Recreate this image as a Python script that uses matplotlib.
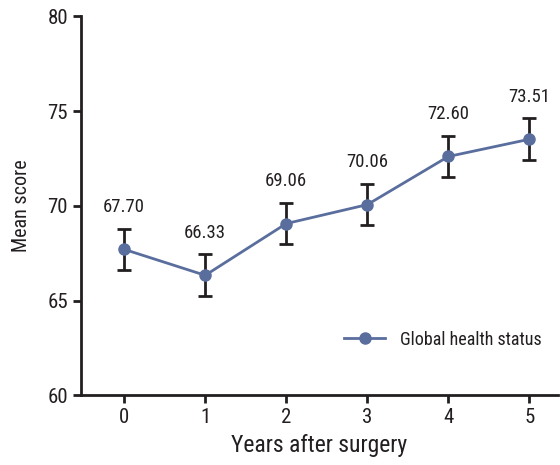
import numpy as np
import matplotlib
matplotlib.use("Agg")
from matplotlib import pyplot as plt

years = [0, 1, 2, 3, 4, 5]
mean_score = [67.70, 66.33, 69.06, 70.06, 72.60, 73.51]
err = [1.1, 1.1, 1.1, 1.1, 1.1, 1.1]
labels = ["67.70", "66.33", "69.06", "70.06", "72.60", "73.51"]

plt.rcParams['font.family'] = ["Roboto Condensed", "DejaVu Sans"]

line_col = "#5a6e9e"
ink = "#231f20"

fig = plt.figure(figsize=(5.6, 4.65), dpi=100)
ax = fig.add_axes([0.145, 0.15, 0.851, 0.815])

ax.errorbar(years, mean_score, yerr=err, fmt="none", ecolor=ink,
            elinewidth=2, capsize=5, capthick=2, zorder=2)
ax.plot(years, mean_score, color=line_col, lw=2, marker="o", ms=8,
        label="Global health status", zorder=3)

for x, y, e, t in zip(years, mean_score, err, labels):
    ax.annotate(t, (x, y + e), xytext=(0, 9), textcoords="offset points",
                ha="center", va="bottom", fontsize=13.5, color=ink)

ax.set_xlim(-0.53, 5.35)
ax.set_ylim(60, 80)
ax.set_xticks(years)
ax.set_yticks([60, 65, 70, 75, 80])
ax.tick_params(labelsize=15, width=2, length=6, color=ink, labelcolor=ink)
for s in ["top", "right"]:
    ax.spines[s].set_visible(False)
for s in ["left", "bottom"]:
    ax.spines[s].set_linewidth(2)
    ax.spines[s].set_color(ink)

ax.set_xlabel("Years after surgery", fontsize=17, color=ink, labelpad=5)
ax.set_ylabel("Mean score", fontsize=14.5, color=ink, labelpad=12)

ax.legend(loc="lower right", frameon=False, fontsize=13,
          bbox_to_anchor=(1.0, 0.08), handlelength=2.3, labelcolor=ink)

fig.savefig("out.png", dpi=100)
